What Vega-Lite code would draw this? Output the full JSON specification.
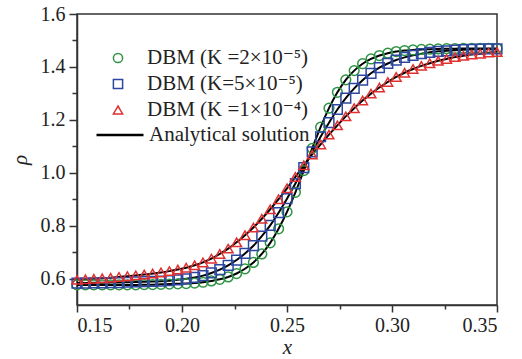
{
  "$schema": "https://vega.github.io/schema/vega-lite/v6.json",
  "width": 420,
  "height": 291,
  "autosize": {"type": "none"},
  "padding": {"left": 77, "top": 14, "right": 25, "bottom": 54},
  "background": "white",
  "config": {
    "font": "'Liberation Serif', 'Times New Roman', 'DejaVu Serif', serif",
    "view": {"stroke": "#333333", "strokeWidth": 1.5},
    "axis": {
      "grid": false,
      "labelFont": "'Liberation Serif', 'Times New Roman', 'DejaVu Serif', serif",
      "labelFontSize": 20,
      "labelColor": "#222222",
      "domainColor": "#333333",
      "domainWidth": 1.5,
      "tickColor": "#333333",
      "tickWidth": 1.5,
      "titleFont": "'Liberation Serif', 'Times New Roman', 'DejaVu Serif', serif",
      "titleFontWeight": "normal",
      "titleFontStyle": "italic",
      "titleFontSize": 21,
      "titleColor": "#222222"
    },
    "legend": {
      "labelFont": "'Liberation Serif', 'Times New Roman', 'DejaVu Serif', serif",
      "labelFontSize": 21,
      "labelColor": "#222222",
      "labelLimit": 400,
      "padding": 0,
      "clipHeight": 20,
      "rowPadding": 5
    }
  },
  "data": {
    "values": [
      {"x": 0.150, "s": "g", "rho": 0.576}, {"x": 0.154, "s": "g", "rho": 0.576}, {"x": 0.158, "s": "g", "rho": 0.576}, {"x": 0.162, "s": "g", "rho": 0.576},
      {"x": 0.166, "s": "g", "rho": 0.576}, {"x": 0.170, "s": "g", "rho": 0.576}, {"x": 0.174, "s": "g", "rho": 0.576}, {"x": 0.178, "s": "g", "rho": 0.576},
      {"x": 0.182, "s": "g", "rho": 0.577}, {"x": 0.186, "s": "g", "rho": 0.577}, {"x": 0.190, "s": "g", "rho": 0.578}, {"x": 0.194, "s": "g", "rho": 0.579},
      {"x": 0.198, "s": "g", "rho": 0.580}, {"x": 0.202, "s": "g", "rho": 0.581}, {"x": 0.206, "s": "g", "rho": 0.583}, {"x": 0.210, "s": "g", "rho": 0.586},
      {"x": 0.214, "s": "g", "rho": 0.591}, {"x": 0.218, "s": "g", "rho": 0.597}, {"x": 0.222, "s": "g", "rho": 0.606}, {"x": 0.226, "s": "g", "rho": 0.619},
      {"x": 0.230, "s": "g", "rho": 0.637}, {"x": 0.234, "s": "g", "rho": 0.661}, {"x": 0.238, "s": "g", "rho": 0.693}, {"x": 0.242, "s": "g", "rho": 0.735},
      {"x": 0.246, "s": "g", "rho": 0.788}, {"x": 0.250, "s": "g", "rho": 0.852}, {"x": 0.254, "s": "g", "rho": 0.926}, {"x": 0.258, "s": "g", "rho": 1.008},
      {"x": 0.262, "s": "g", "rho": 1.092}, {"x": 0.266, "s": "g", "rho": 1.172}, {"x": 0.270, "s": "g", "rho": 1.244}, {"x": 0.274, "s": "g", "rho": 1.304},
      {"x": 0.278, "s": "g", "rho": 1.351}, {"x": 0.282, "s": "g", "rho": 1.386}, {"x": 0.286, "s": "g", "rho": 1.412}, {"x": 0.290, "s": "g", "rho": 1.430},
      {"x": 0.294, "s": "g", "rho": 1.443}, {"x": 0.298, "s": "g", "rho": 1.452}, {"x": 0.302, "s": "g", "rho": 1.458}, {"x": 0.306, "s": "g", "rho": 1.462},
      {"x": 0.310, "s": "g", "rho": 1.464}, {"x": 0.314, "s": "g", "rho": 1.466}, {"x": 0.318, "s": "g", "rho": 1.467}, {"x": 0.322, "s": "g", "rho": 1.468},
      {"x": 0.326, "s": "g", "rho": 1.469}, {"x": 0.330, "s": "g", "rho": 1.469}, {"x": 0.334, "s": "g", "rho": 1.470}, {"x": 0.338, "s": "g", "rho": 1.470},
      {"x": 0.342, "s": "g", "rho": 1.470}, {"x": 0.346, "s": "g", "rho": 1.470}, {"x": 0.350, "s": "g", "rho": 1.470},

      {"x": 0.150, "s": "b", "rho": 0.583}, {"x": 0.154, "s": "b", "rho": 0.583}, {"x": 0.158, "s": "b", "rho": 0.584}, {"x": 0.162, "s": "b", "rho": 0.584},
      {"x": 0.166, "s": "b", "rho": 0.585}, {"x": 0.170, "s": "b", "rho": 0.585}, {"x": 0.174, "s": "b", "rho": 0.586}, {"x": 0.178, "s": "b", "rho": 0.587},
      {"x": 0.182, "s": "b", "rho": 0.588}, {"x": 0.186, "s": "b", "rho": 0.589}, {"x": 0.190, "s": "b", "rho": 0.590}, {"x": 0.194, "s": "b", "rho": 0.592},
      {"x": 0.198, "s": "b", "rho": 0.595}, {"x": 0.202, "s": "b", "rho": 0.599}, {"x": 0.206, "s": "b", "rho": 0.604}, {"x": 0.210, "s": "b", "rho": 0.611},
      {"x": 0.214, "s": "b", "rho": 0.621}, {"x": 0.218, "s": "b", "rho": 0.634}, {"x": 0.222, "s": "b", "rho": 0.650}, {"x": 0.226, "s": "b", "rho": 0.670},
      {"x": 0.230, "s": "b", "rho": 0.695}, {"x": 0.234, "s": "b", "rho": 0.724}, {"x": 0.238, "s": "b", "rho": 0.760}, {"x": 0.242, "s": "b", "rho": 0.801},
      {"x": 0.246, "s": "b", "rho": 0.849}, {"x": 0.250, "s": "b", "rho": 0.902}, {"x": 0.254, "s": "b", "rho": 0.959}, {"x": 0.258, "s": "b", "rho": 1.019},
      {"x": 0.262, "s": "b", "rho": 1.079}, {"x": 0.266, "s": "b", "rho": 1.136}, {"x": 0.270, "s": "b", "rho": 1.189}, {"x": 0.274, "s": "b", "rho": 1.239},
      {"x": 0.278, "s": "b", "rho": 1.282}, {"x": 0.282, "s": "b", "rho": 1.319}, {"x": 0.286, "s": "b", "rho": 1.350}, {"x": 0.290, "s": "b", "rho": 1.376},
      {"x": 0.294, "s": "b", "rho": 1.397}, {"x": 0.298, "s": "b", "rho": 1.413}, {"x": 0.302, "s": "b", "rho": 1.426}, {"x": 0.306, "s": "b", "rho": 1.436},
      {"x": 0.310, "s": "b", "rho": 1.444}, {"x": 0.314, "s": "b", "rho": 1.450}, {"x": 0.318, "s": "b", "rho": 1.455}, {"x": 0.322, "s": "b", "rho": 1.459},
      {"x": 0.326, "s": "b", "rho": 1.461}, {"x": 0.330, "s": "b", "rho": 1.463}, {"x": 0.334, "s": "b", "rho": 1.465}, {"x": 0.338, "s": "b", "rho": 1.466},
      {"x": 0.342, "s": "b", "rho": 1.467}, {"x": 0.346, "s": "b", "rho": 1.468}, {"x": 0.350, "s": "b", "rho": 1.468},

      {"x": 0.150, "s": "r", "rho": 0.595}, {"x": 0.154, "s": "r", "rho": 0.597}, {"x": 0.158, "s": "r", "rho": 0.599}, {"x": 0.162, "s": "r", "rho": 0.601},
      {"x": 0.166, "s": "r", "rho": 0.603}, {"x": 0.170, "s": "r", "rho": 0.606}, {"x": 0.174, "s": "r", "rho": 0.609}, {"x": 0.178, "s": "r", "rho": 0.612},
      {"x": 0.182, "s": "r", "rho": 0.615}, {"x": 0.186, "s": "r", "rho": 0.619}, {"x": 0.190, "s": "r", "rho": 0.623}, {"x": 0.194, "s": "r", "rho": 0.628},
      {"x": 0.198, "s": "r", "rho": 0.634}, {"x": 0.202, "s": "r", "rho": 0.641}, {"x": 0.206, "s": "r", "rho": 0.650}, {"x": 0.210, "s": "r", "rho": 0.661},
      {"x": 0.214, "s": "r", "rho": 0.675}, {"x": 0.218, "s": "r", "rho": 0.693}, {"x": 0.222, "s": "r", "rho": 0.713}, {"x": 0.226, "s": "r", "rho": 0.737},
      {"x": 0.230, "s": "r", "rho": 0.764}, {"x": 0.234, "s": "r", "rho": 0.793}, {"x": 0.238, "s": "r", "rho": 0.826}, {"x": 0.242, "s": "r", "rho": 0.862},
      {"x": 0.246, "s": "r", "rho": 0.900}, {"x": 0.250, "s": "r", "rho": 0.941}, {"x": 0.254, "s": "r", "rho": 0.984}, {"x": 0.258, "s": "r", "rho": 1.028},
      {"x": 0.262, "s": "r", "rho": 1.069}, {"x": 0.266, "s": "r", "rho": 1.107}, {"x": 0.270, "s": "r", "rho": 1.144}, {"x": 0.274, "s": "r", "rho": 1.179},
      {"x": 0.278, "s": "r", "rho": 1.213}, {"x": 0.282, "s": "r", "rho": 1.244}, {"x": 0.286, "s": "r", "rho": 1.273}, {"x": 0.290, "s": "r", "rho": 1.299},
      {"x": 0.294, "s": "r", "rho": 1.322}, {"x": 0.298, "s": "r", "rho": 1.343}, {"x": 0.302, "s": "r", "rho": 1.362}, {"x": 0.306, "s": "r", "rho": 1.378},
      {"x": 0.310, "s": "r", "rho": 1.392}, {"x": 0.314, "s": "r", "rho": 1.404}, {"x": 0.318, "s": "r", "rho": 1.414}, {"x": 0.322, "s": "r", "rho": 1.423},
      {"x": 0.326, "s": "r", "rho": 1.430}, {"x": 0.330, "s": "r", "rho": 1.437}, {"x": 0.334, "s": "r", "rho": 1.442}, {"x": 0.338, "s": "r", "rho": 1.447},
      {"x": 0.342, "s": "r", "rho": 1.450}, {"x": 0.346, "s": "r", "rho": 1.454}, {"x": 0.350, "s": "r", "rho": 1.456}
    ]
  },
  "layer": [
    {
      "mark": {"type": "line", "interpolate": "monotone", "strokeWidth": 2},
      "encoding": {
        "x": {"field": "x", "type": "quantitative", "scale": {"domain": [0.15, 0.35], "nice": false, "zero": false},
              "axis": {"orient": "bottom", "values": [0.175, 0.225, 0.275, 0.325], "labels": false, "domain": false, "tickSize": 4, "title": null}},
        "y": {"field": "rho", "type": "quantitative", "scale": {"domain": [0.5, 1.6], "nice": false, "zero": false},
              "axis": {"orient": "left", "values": [0.7, 0.9, 1.1, 1.3, 1.5], "labels": false, "domain": false, "tickSize": 5, "title": null}},
        "stroke": {
          "datum": "Analytical solution", "type": "nominal",
          "scale": {"range": ["#000000"]},
          "legend": {"title": null, "orient": "none", "legendX": 18, "legendY": 111, "symbolType": "stroke", "symbolSize": 2209, "symbolStrokeWidth": 2.5, "labelOffset": 4}
        },
        "detail": {"field": "s", "type": "nominal"}
      }
    },
    {
      "mark": {"type": "point", "filled": false, "strokeWidth": 1.5, "size": 95, "opacity": 1},
      "encoding": {
        "x": {"field": "x", "type": "quantitative", "scale": {"domain": [0.15, 0.35], "nice": false, "zero": false},
              "axis": {"orient": "bottom", "values": [0.15, 0.2, 0.25, 0.3, 0.35], "format": ".2f", "tickSize": 7, "labelPadding": 3, "title": "x", "titlePadding": 1}},
        "y": {"field": "rho", "type": "quantitative", "scale": {"domain": [0.5, 1.6], "nice": false, "zero": false},
              "axis": {"orient": "left", "values": [0.6, 0.8, 1.0, 1.2, 1.4, 1.6], "format": ".1f", "tickSize": 8, "labelPadding": 4, "title": "ρ", "titlePadding": 10}},
        "color": {
          "field": "s", "type": "nominal",
          "scale": {"domain": ["g", "b", "r"], "range": ["#2e9444", "#2d46a0", "#e03030"]},
          "legend": {
            "title": null, "orient": "none", "legendX": 30.5, "legendY": 34,
            "symbolSize": 85, "symbolStrokeWidth": 1.5, "labelOffset": 18.5,
            "labelExpr": "datum.value === 'g' ? 'DBM (K =2×10⁻⁵)' : datum.value === 'b' ? 'DBM (K=5×10⁻⁵)' : 'DBM (K =1×10⁻⁴)'"
          }
        },
        "shape": {
          "field": "s", "type": "nominal",
          "scale": {"domain": ["g", "b", "r"], "range": ["circle", "square", "triangle-up"]},
          "legend": {
            "title": null, "orient": "none", "legendX": 30.5, "legendY": 34,
            "symbolSize": 85, "symbolStrokeWidth": 1.5, "labelOffset": 18.5,
            "labelExpr": "datum.value === 'g' ? 'DBM (K =2×10⁻⁵)' : datum.value === 'b' ? 'DBM (K=5×10⁻⁵)' : 'DBM (K =1×10⁻⁴)'"
          }
        }
      }
    }
  ],
  "resolve": {"axis": {"x": "independent", "y": "independent"}}
}
